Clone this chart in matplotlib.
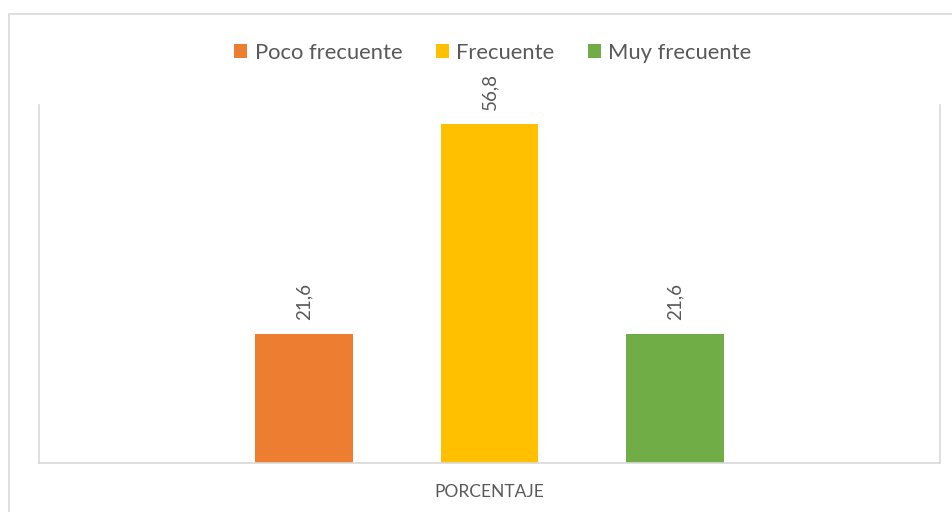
import matplotlib
matplotlib.use("Agg")
import matplotlib.pyplot as plt
from matplotlib.patches import Rectangle, Patch

categories = ["Poco frecuente", "Frecuente", "Muy frecuente"]
values = [21.6, 56.8, 21.6]
value_labels = ["21,6", "56,8", "21,6"]
colors = ["#ED7D31", "#FFC000", "#70AD47"]
axis_title = "PORCENTAJE"

W, H = 952, 512
fig = plt.figure(figsize=(W / 100, H / 100), dpi=100)
plt.rcParams['font.family'] = ['Lato', 'DejaVu Sans']

# outer chart border (right and bottom edges fall outside the image)
fig.patches.append(Rectangle((9 / W, -0.1), 1, 1.1 - 14 / H, transform=fig.transFigure,
                             fill=False, edgecolor="#D9D9D9", linewidth=1.2, clip_on=False))

ax = fig.add_axes([39 / W, (H - 463) / H, 901 / W, (463 - 105) / H])
positions = [-1, 0, 1]
ax.bar(positions, values, width=0.528, color=colors)
ax.set_xlim(-2.4286, 2.4286)
ax.set_ylim(0, 60)
ax.spines["top"].set_visible(False)
for s in ["left", "right", "bottom"]:
    ax.spines[s].set_color("#D9D9D9")
    ax.spines[s].set_linewidth(1.2)
ax.set_xticks([])
ax.set_yticks([])

for x, v, lab in zip(positions, values, value_labels):
    ax.annotate(lab, (x, v), xytext=(0, 10), textcoords="offset points",
                rotation=90, ha="center", va="bottom", color="#595959", fontsize=13.5)

ax.set_xlabel(axis_title, color="#595959", fontsize=12.5, labelpad=15)

handles = [Patch(facecolor=c, edgecolor="none") for c in colors]
fig.legend(handles, categories, loc="center", bbox_to_anchor=(493 / W, 1 - 53 / H),
           ncol=3, frameon=False, fontsize=15.8, labelcolor="#595959",
           handlelength=0.6, handleheight=0.6, handletextpad=0.35, columnspacing=1.5)

fig.savefig("out.png", dpi=100)
